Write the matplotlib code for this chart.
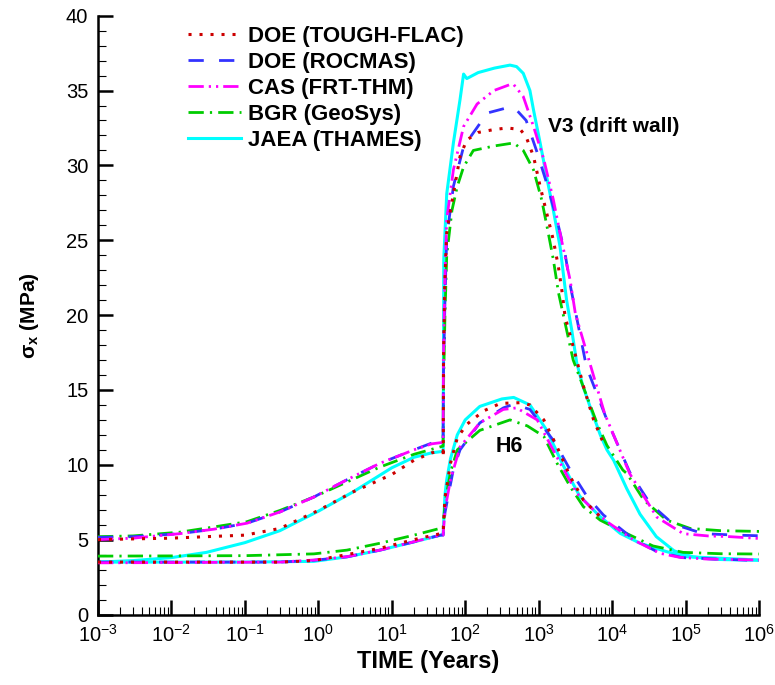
import matplotlib
matplotlib.use("Agg")
import matplotlib.pyplot as plt
import matplotlib.ticker as ticker

plt.rcParams["font.family"] = ["Liberation Sans", "DejaVu Sans"]
plt.rcParams["mathtext.fontset"] = "custom"
plt.rcParams["mathtext.rm"] = "Liberation Sans"
plt.rcParams["mathtext.it"] = "Liberation Sans:italic"
plt.rcParams["mathtext.bf"] = "Liberation Sans:bold"
plt.rcParams["mathtext.default"] = "regular"

# ---- data: time (years), sigma_x (MPa) ----
# V3 (drift wall)
v3_tf_t = [0.001, 0.003, 0.01, 0.03, 0.1, 0.3, 1, 3, 10, 20, 35, 50, 50.2, 50.6, 52.5, 56, 63, 69, 85,
           105, 150, 250, 372, 562, 676, 851, 1047, 1288, 1585, 1860, 2090, 2290, 2950, 4100, 5600, 8000]
v3_tf_s = [5.0, 5.05, 5.1, 5.2, 5.3, 5.75, 6.95, 8.2, 9.35, 10.3, 10.8, 10.95, 10.5, 17.0, 22.0, 25.5, 27.0,
           28.1, 30.6, 31.7, 32.2, 32.4, 32.5, 32.4, 31.9, 30.6, 28.6, 26.8, 25.0, 23.2, 21.5, 19.9, 17.9,
           15.2, 13.0, 11.2]

v3_rm_t = [0.001, 0.003, 0.013, 0.038, 0.107, 0.3, 0.87, 2.45, 6.9, 20, 35, 50, 50.5, 53, 56, 69, 95,
           200, 407, 500, 676, 933, 1288, 1778, 2290, 2690, 4470, 8500, 17400, 33000, 67600, 174000,
           500000, 1000000]
v3_rm_s = [5.15, 5.2, 5.4, 5.7, 6.1, 6.85, 7.85, 9.0, 10.1, 11.0, 11.45, 11.55, 16.0, 21.0, 25.2, 28.6,
           31.25, 33.5, 33.9, 33.7, 33.0, 31.0, 28.8, 26.35, 24.1, 22.0, 16.55, 13.0, 9.5, 7.4, 6.05, 5.4,
           5.3, 5.26]

v3_cas_t = [0.001, 0.003, 0.013, 0.038, 0.107, 0.3, 0.87, 2.45, 6.9, 20, 35, 50, 50.5, 52.5, 56, 69, 95,
            145, 245, 407, 457, 617, 851, 1175, 1585, 1950, 2690, 3160, 4270, 7940, 17400, 40700, 93000,
            200000, 400000, 1000000]
v3_cas_s = [5.0, 5.1, 5.4, 5.7, 6.1, 6.85, 7.85, 9.0, 10.1, 11.0, 11.4, 11.5, 17.0, 22.0, 26.4, 29.7,
            32.6, 34.1, 35.0, 35.4, 35.4, 34.6, 32.6, 30.4, 27.7, 25.5, 22.3, 20.1, 17.9, 13.4, 9.4, 6.5,
            5.4, 5.25, 5.2, 5.08]

v3_bgr_t = [0.001, 0.003, 0.013, 0.038, 0.107, 0.3, 0.87, 2.45, 6.9, 20, 46, 50, 50.5, 53, 56, 66, 78,
            95, 129, 250, 457, 617, 851, 1100, 1350, 1585, 1860, 2190, 2950, 6200, 8500, 14000, 16000,
            27000, 55000, 115000, 300000, 1000000]
v3_bgr_s = [5.2, 5.25, 5.5, 5.85, 6.2, 6.95, 7.85, 8.85, 9.85, 10.7, 11.2, 11.25, 15.0, 20.0, 24.0, 27.0,
            28.6, 29.9, 31.0, 31.3, 31.5, 31.0, 29.7, 27.7, 25.5, 23.7, 21.5, 19.9, 17.0, 12.8, 11.3, 9.65,
            9.4, 7.65, 6.31, 5.75, 5.6, 5.55]

v3_jaea_t = [0.001, 0.003, 0.01, 0.03, 0.1, 0.3, 1, 3, 10, 20, 35, 50, 50.5, 51, 56, 69, 85, 95, 105,
             150, 250, 407, 500, 617, 760, 851, 1047, 1288, 1585, 1950, 2400, 2820, 3300, 3980, 5000,
             6900, 8500, 10500, 15850, 24000, 40000, 70000, 126000, 250000, 1000000]
v3_jaea_s = [3.5, 3.6, 3.8, 4.15, 4.8, 5.6, 6.9, 8.2, 9.8, 10.5, 10.8, 10.9, 16.0, 23.7, 28.1, 31.5,
             34.4, 36.1, 35.8, 36.2, 36.5, 36.7, 36.6, 36.15, 35.0, 33.7, 31.5, 29.2, 27.0, 24.6, 21.0,
             19.0, 16.8, 15.3, 13.9, 12.0, 11.0, 10.3, 8.4, 6.7, 5.2, 4.25, 3.85, 3.68, 3.62]

# H6
h6_tf_t = [0.001, 0.3, 0.87, 2.45, 6.9, 20, 46, 50, 50.5, 53, 63, 78, 105, 178, 300, 562, 760, 1175,
           1780, 2690, 4070, 6900, 7400]
h6_tf_s = [3.5, 3.5, 3.6, 4.0, 4.42, 5.0, 5.4, 5.45, 5.8, 7.8, 10.1, 11.8, 12.7, 13.6, 14.1, 14.15, 14.0,
           13.0, 11.2, 9.2, 7.65, 6.53, 6.4]

h6_rm_t = [0.001, 0.3, 0.87, 2.45, 6.9, 20, 46, 50, 50.5, 53, 69, 85, 158, 330, 457, 760, 1660, 2690,
           4570, 7600, 20000, 40700, 90000, 1000000]
h6_rm_s = [3.5, 3.5, 3.62, 3.85, 4.3, 4.85, 5.3, 5.3, 5.5, 6.8, 9.7, 11.0, 12.8, 13.8, 14.05, 13.7, 11.5,
           9.65, 7.87, 6.65, 5.0, 4.2, 3.8, 3.6]

h6_cas_t = [0.001, 0.3, 0.87, 2.45, 6.9, 20, 46, 50, 50.5, 53, 63, 85, 158, 330, 500, 955, 1780, 3300,
            6200, 8500, 19500, 44700, 83000, 200000, 1000000]
h6_cas_s = [3.45, 3.5, 3.64, 3.86, 4.3, 4.86, 5.3, 5.3, 5.6, 7.0, 9.0, 11.2, 12.8, 13.7, 13.8, 13.0,
            10.5, 8.1, 6.76, 6.2, 4.98, 4.09, 3.82, 3.7, 3.64]

h6_bgr_t = [0.001, 0.1, 0.87, 2.45, 6.9, 20, 46, 50, 50.5, 53, 63, 78, 158, 407, 700, 1175, 1780, 2690,
            4070, 6900, 14000, 36000, 93000, 300000, 1000000]
h6_bgr_s = [3.9, 3.93, 4.05, 4.3, 4.76, 5.3, 5.76, 5.8, 6.0, 7.5, 9.5, 11.0, 12.3, 13.0, 12.6, 11.9,
            10.1, 8.54, 7.2, 6.3, 5.53, 4.58, 4.15, 4.06, 4.04]

h6_jaea_t = [0.001, 0.1, 0.87, 2.45, 6.9, 20, 46, 50, 50.5, 53, 56, 63, 78, 100, 158, 316, 457, 760,
             1290, 2190, 3630, 6900, 12900, 24000, 55000, 105000, 1000000]
h6_jaea_s = [3.5, 3.5, 3.55, 3.85, 4.3, 4.85, 5.3, 5.35, 5.8, 8.0, 9.0, 10.4, 12.0, 13.0, 13.9, 14.4,
             14.5, 14.0, 12.3, 9.9, 7.9, 6.53, 5.42, 4.76, 4.2, 3.86, 3.64]

LABELS = ["DOE (TOUGH-FLAC)", "DOE (ROCMAS)", "CAS (FRT-THM)", "BGR (GeoSys)", "JAEA (THAMES)"]

STYLES = [
    dict(color="#CC0000", lw=2.2, ls=(0, (1, 2.6)), zorder=5),
    dict(color="#3333FF", lw=2.0, ls=(0, (5.5, 5.5)), zorder=4),
    dict(color="#FF00FF", lw=2.0, ls=(0, (5.5, 1.8, 0.8, 1.8, 0.8, 1.8)), zorder=4),
    dict(color="#00CC00", lw=2.0, ls=(0, (5.5, 2.2, 0.8, 2.2)), zorder=3),
    dict(color="#00FFFF", lw=2.2, ls="-", zorder=2),
]

v3 = [(v3_tf_t, v3_tf_s), (v3_rm_t, v3_rm_s), (v3_cas_t, v3_cas_s), (v3_bgr_t, v3_bgr_s),
      (v3_jaea_t, v3_jaea_s)]
h6 = [(h6_tf_t, h6_tf_s), (h6_rm_t, h6_rm_s), (h6_cas_t, h6_cas_s), (h6_bgr_t, h6_bgr_s),
      (h6_jaea_t, h6_jaea_s)]

fig = plt.figure(figsize=(7.75, 6.85), dpi=100)
ax = fig.add_axes([98 / 775, 70.5 / 685, 661 / 775, 598.8 / 685])

handles = []
for (t, s), (th, sh), st, lab in zip(v3, h6, STYLES, LABELS):
    ln, = ax.plot(t, s, color=st["color"], lw=st["lw"], linestyle=st["ls"], zorder=st["zorder"],
                  dash_capstyle="butt", label=lab)
    ax.plot(th, sh, color=st["color"], lw=st["lw"], linestyle=st["ls"], zorder=st["zorder"],
            dash_capstyle="butt")
    handles.append(ln)

ax.set_xscale("log")
ax.set_xlim(1e-3, 1e6)
ax.set_ylim(0, 40)
ax.xaxis.set_major_locator(ticker.LogLocator(base=10, numticks=12))
ax.xaxis.set_minor_locator(ticker.LogLocator(base=10, subs=range(2, 10), numticks=12))
ax.xaxis.set_minor_formatter(ticker.NullFormatter())
ax.yaxis.set_major_locator(ticker.MultipleLocator(5))
ax.yaxis.set_minor_locator(ticker.MultipleLocator(1))

for side in ["top", "right"]:
    ax.spines[side].set_visible(False)
for side in ["left", "bottom"]:
    ax.spines[side].set_linewidth(1.8)

ax.tick_params(which="major", direction="in", length=11, width=1.8, labelsize=14.5, pad=7)
ax.tick_params(which="minor", direction="in", length=5.5, width=0.8)
ax.tick_params(axis="x", which="major", pad=7)

ax.set_xlabel("TIME (Years)", fontsize=17, fontweight="bold", labelpad=3)
ax.set_ylabel(r"$\sigma_\mathbf{x}$ (MPa)", fontsize=15, fontweight="bold", labelpad=18)

ax.text(548 / 775, 1 - 127 / 685, "V3 (drift wall)", transform=fig.transFigure,
        fontsize=15, fontweight="bold", va="center", ha="left")
ax.text(496 / 775, 1 - 447 / 685, "H6", transform=fig.transFigure,
        fontsize=15.5, fontweight="bold", va="center", ha="left")

leg = ax.legend(handles=handles, loc="upper left", bbox_to_anchor=(188 / 775, 1 - 26 / 685),
                bbox_transform=fig.transFigure, frameon=False, borderpad=0, borderaxespad=0,
                handlelength=2.4, handletextpad=0.3, labelspacing=0.22,
                prop=dict(size=16, weight="bold"))

fig.savefig("out.png", dpi=100)
